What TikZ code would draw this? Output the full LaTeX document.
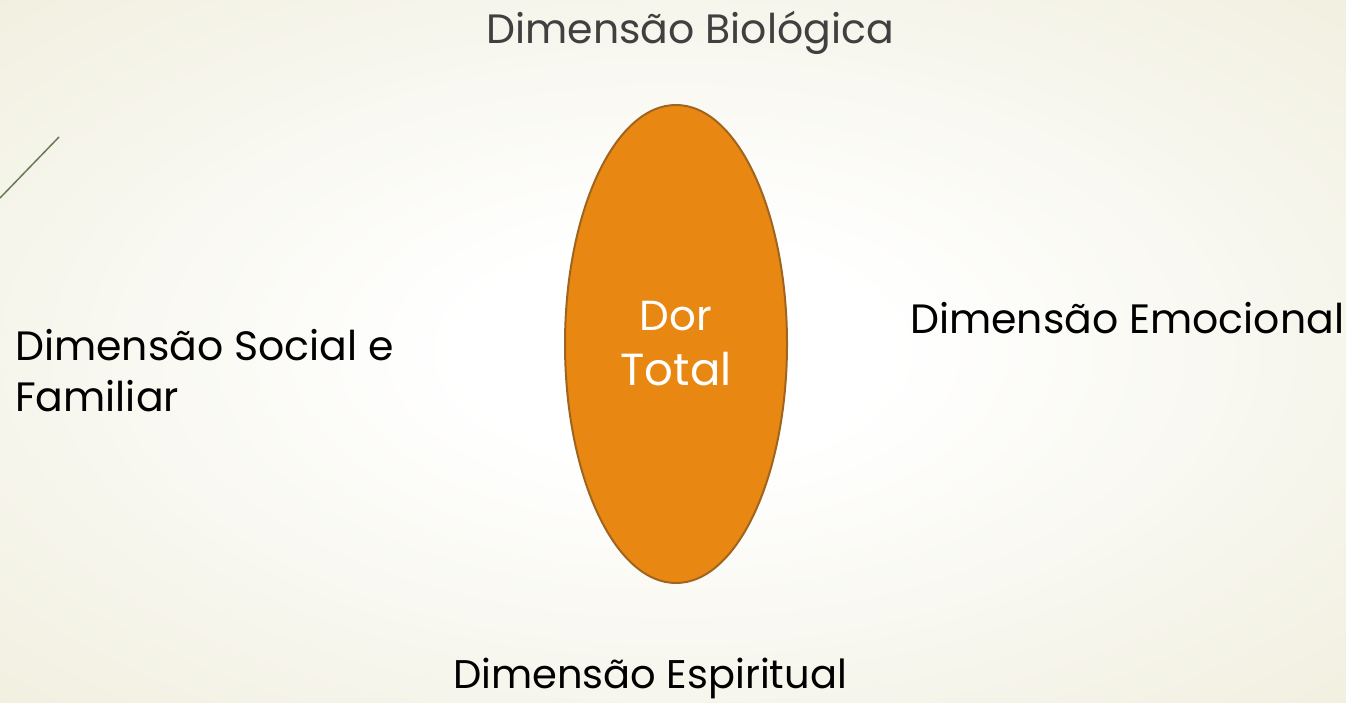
\documentclass[tikz,border=0pt]{standalone}
\usepackage{fontspec}
\setmainfont{Poppins}
\usepackage{tikz}
\usetikzlibrary{shapes.geometric, positioning}
\usepackage{xcolor}
\definecolor{bgedge}{RGB}{239,237,219}
\definecolor{dorfill}{RGB}{232,136,18}
\definecolor{dordraw}{RGB}{160,100,30}
\definecolor{biogray}{RGB}{64,64,64}
\definecolor{accentline}{RGB}{104,122,88}
\pgfdeclareradialshading{bgglow}{\pgfpoint{0bp}{0bp}}{color(0bp)=(white); color(8bp)=(white); color(40bp)=(bgedge); color(50bp)=(bgedge)}
\tikzstyle{dimension} = [inner sep=0pt, font=\fontsize{41}{52}\selectfont, text=black]
\tikzstyle{core} = [ellipse, minimum width=222pt, minimum height=478pt, inner sep=0pt, draw=dordraw, line width=2pt, fill=dorfill, text=white, align=center, font=\fontsize{42}{55}\selectfont]

\begin{document}
\begin{tikzpicture}[x=1pt, y=1pt]

% Background
\shade [shading=bgglow] (0,0) rectangle (1346,702);
\useasboundingbox (0,0) rectangle (1346,702);
\coordinate (accentA) at (0,504);
\coordinate (accentB) at (59,565);
\draw [accentline, line width=1.5pt] (accentA) -- (accentB);

% Nodes
\node (dor) [core] at (676,358) {Dor\\{\fontsize{45}{55}\selectfont Total}};
\node (bio) [dimension, text=biogray, anchor=base] at (690,658) {Dimensão Biológica};
\node (emo) [dimension, anchor=base west] at (910,368) {Dimensão Emocional};
\node (soc) [dimension, align=left, anchor=base west] at (15,290) {Dimensão Social e\\Familiar};
\node (esp) [dimension, font=\fontsize{40}{52}\selectfont, anchor=base] at (650,14) {Dimensão Espiritual};

\end{tikzpicture}
\end{document}
